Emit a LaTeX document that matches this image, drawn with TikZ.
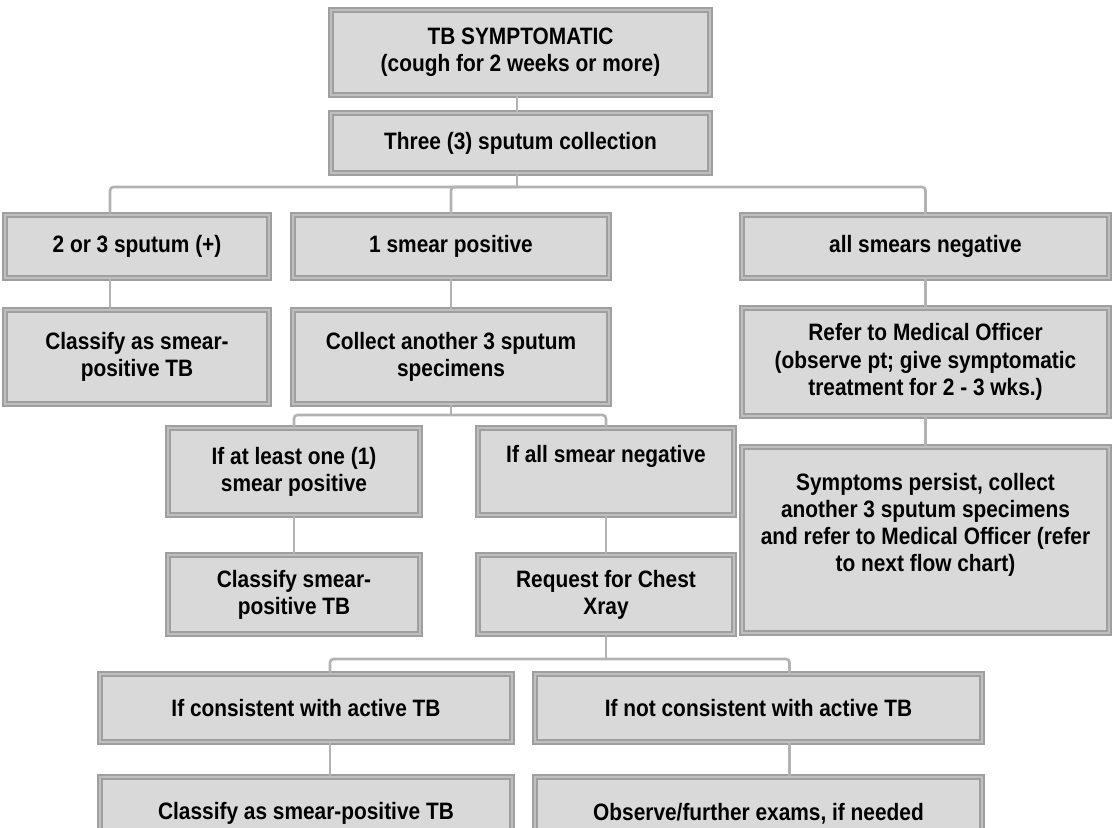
\documentclass[tikz,border=0pt]{standalone}
\usepackage{fontspec}
\setmainfont{Liberation Sans}[FakeStretch=0.88]
\begin{document}
\begin{tikzpicture}[
    x=0.02cm, y=-0.02cm,
    box/.style={draw=gray!75, double=gray!50, double distance=1.4pt, line width=0.9pt,
      fill=gray!30, align=center, inner sep=0pt,
      font=\fontsize{13.5}{15.5}\selectfont\bfseries},
    link/.style={draw=gray!60, line width=1.5pt, rounded corners=2pt}]
  \path[use as bounding box, clip] (0,0) rectangle (1112,828);
  % top
  \node[box, minimum width=7.58cm, minimum height=1.70cm] (top)  at (520.5,52.5) {TB SYMPTOMATIC\\(cough for 2 weeks or more)};
  \node[box, minimum width=7.58cm, minimum height=1.20cm] (coll) at (520.5,143)  {Three (3) sputum collection};
  % first split
  \node[box, minimum width=5.28cm, minimum height=1.26cm] (pos3) at (137,246.5)   {2 or 3 sputum (+)};
  \node[box, minimum width=6.32cm, minimum height=1.26cm] (one)  at (451,246.5)   {1 smear positive};
  \node[box, minimum width=7.34cm, minimum height=1.26cm] (neg)  at (925.5,246.5) {all smears negative};
  \node[box, minimum width=5.28cm, minimum height=1.88cm] (cls)   at (137,357)   {Classify as smear-\\positive TB};
  \node[box, minimum width=6.32cm, minimum height=1.88cm] (more)  at (451,357)   {Collect another 3 sputum\\specimens};
  \node[box, minimum width=7.34cm, minimum height=2.16cm] (refer) at (925.5,362) {Refer to Medical Officer\\(observe pt; give symptomatic\\treatment for 2 - 3 wks.)};
  % second sputum round
  \node[box, minimum width=5.04cm, minimum height=1.74cm] (least)  at (294,471.5) {If at least one (1)\\smear positive};
  \node[box, minimum width=5.12cm, minimum height=1.74cm] (allneg) at (606,471.5) {If all smear negative\\\strut};
  \node[box, minimum width=7.34cm, minimum height=3.72cm] (persist) at (925.5,540)
    {Symptoms persist, collect\\another 3 sputum specimens\\and refer to Medical Officer (refer\\to next flow chart)\\\strut};
  \node[box, minimum width=5.04cm, minimum height=1.58cm] (clsb) at (294,594.5) {Classify smear-\\positive TB};
  \node[box, minimum width=5.12cm, minimum height=1.58cm] (xray) at (606,594.5) {Request for Chest\\Xray};
  % x-ray result
  \node[box, minimum width=8.24cm, minimum height=1.36cm] (cons)    at (306,708)   {If consistent with active TB};
  \node[box, minimum width=8.94cm, minimum height=1.36cm] (notcons) at (758.5,708) {If not consistent with active TB};
  \node[box, minimum width=8.24cm, minimum height=1.46cm] (clsc) at (306,813.5)   {Classify as smear-positive TB};
  \node[box, minimum width=8.94cm, minimum height=1.46cm] (obs)  at (758.5,813.5) {Observe/further exams, if needed};
  % junctions
  \coordinate (j1) at (517,187);
  \coordinate (j2) at (451,415);
  \coordinate (j3) at (606,659);
  % connectors
  \draw[link] (top.south -| j1) -- (coll.north -| j1);
  \draw[link] (coll.south -| j1) -- (j1);
  \draw[link] (j1) -| ([xshift=-0.54cm]pos3.north);
  \draw[link] (j1) -| (one.north);
  \draw[link] (j1) -| (neg.north);
  \draw[link] ([xshift=-0.54cm]pos3.south) -- ([xshift=-0.54cm]cls.north);
  \draw[link] (one) -- (more);
  \draw[link] (neg) -- (refer);
  \draw[link] (refer) -- (persist);
  \draw[link] (more) -- (j2);
  \draw[link] (j2) -| (least.north);
  \draw[link] (j2) -| (allneg.north);
  \draw[link] (least) -- (clsb);
  \draw[link] (allneg) -- (xray);
  \draw[link] (xray) -- (j3);
  \draw[link] (j3) -| ([xshift=0.48cm]cons.north);
  \draw[link] (j3) -| ([xshift=0.62cm]notcons.north);
  \draw[link] ([xshift=0.48cm]cons.south) -- ([xshift=0.48cm]clsc.north);
  \draw[link] ([xshift=0.62cm]notcons.south) -- ([xshift=0.62cm]obs.north);
\end{tikzpicture}
\end{document}
